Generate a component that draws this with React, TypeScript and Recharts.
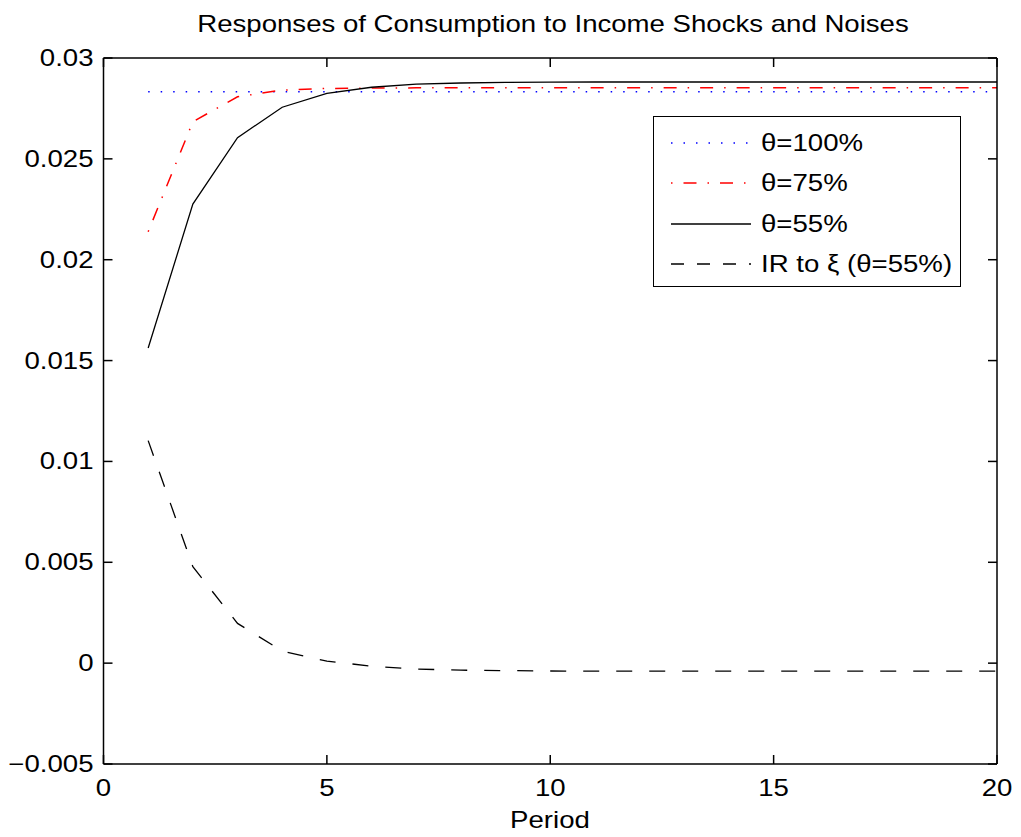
import { Legend, Line, LineChart, XAxis, YAxis } from "recharts";

// impulse responses, periods 1..20
const periods = [1, 2, 3, 4, 5, 6, 7, 8, 9, 10, 11, 12, 13, 14, 15, 16, 17, 18, 19, 20];
const theta100 = [
  0.02833, 0.02833, 0.02833, 0.02833, 0.02833, 0.02833, 0.02833, 0.02833, 0.02833, 0.02833,
  0.02833, 0.02833, 0.02833, 0.02833, 0.02833, 0.02833, 0.02833, 0.02833, 0.02833, 0.02833,
];
const theta75 = [
  0.02139, 0.02684, 0.02808, 0.02841, 0.02849, 0.02851, 0.02852, 0.02852, 0.02852, 0.02852,
  0.02852, 0.02852, 0.02852, 0.02852, 0.02852, 0.02852, 0.02852, 0.02852, 0.02852, 0.02852,
];
const theta55 = [
  0.01562, 0.02276, 0.02605, 0.02756, 0.02825, 0.02855, 0.0287, 0.02876, 0.02879, 0.0288,
  0.02881, 0.02881, 0.02881, 0.02881, 0.02881, 0.02881, 0.02881, 0.02881, 0.02881, 0.02881,
];
const irXi = [
  0.01103, 0.00478, 0.00197, 0.0006, 0.0001, -0.00015, -0.00029, -0.00035, -0.00037, -0.00039,
  -0.0004, -0.0004, -0.0004, -0.0004, -0.0004, -0.0004, -0.0004, -0.0004, -0.0004, -0.0004,
];

const xTicks = [0, 5, 10, 15, 20];
const yTicks = [-0.005, 0, 0.005, 0.01, 0.015, 0.02, 0.025, 0.03];
const legendNames = ["θ=100%", "θ=75%", "θ=55%", "IR to ξ (θ=55%)"];
const title = "Responses of Consumption to Income Shocks and Noises";

const data = periods.map((p, i) => ({
  period: p,
  t100: theta100[i],
  t75: theta75[i],
  t55: theta55[i],
  ir: irXi[i],
}));

const FONT = '"Liberation Sans", Arial, Helvetica, sans-serif';
const FS = 23;
const SX = 1.2; // the source figure is stretched sideways
const TICK = 9;
const TW = 1.5;

const fmtY = (v: number) => (v < 0 ? "\u2212" + String(-v) : String(v));

// matlab style ticks point into the plot box
function LeftTick(props: any) {
  const { x, y, payload } = props;
  return (
    <g>
      <path d={`M${x},${y}h${TICK}`} stroke="#000" strokeWidth={TW} fill="none" />
      <g transform={`translate(${x - 10},${y}) scale(${SX},1)`}>
        <text x={0} y={0} dy={8} textAnchor="end" fontSize={FS} fontFamily={FONT} fill="#000">
          {fmtY(payload.value)}
        </text>
      </g>
    </g>
  );
}

function RightTick(props: any) {
  const { x, y } = props;
  return (
    <g>
      <path d={`M${x},${y}h${-TICK}`} stroke="#000" strokeWidth={TW} fill="none" />
    </g>
  );
}

function BottomTick(props: any) {
  const { x, y, payload } = props;
  return (
    <g>
      <path d={`M${x},${y}v${-TICK}`} stroke="#000" strokeWidth={TW} fill="none" />
      <g transform={`translate(${x},${y + 32}) scale(${SX},1)`}>
        <text x={0} y={0} textAnchor="middle" fontSize={FS} fontFamily={FONT} fill="#000">
          {payload.value}
        </text>
      </g>
    </g>
  );
}

function TopTick(props: any) {
  const { x, y } = props;
  return (
    <g>
      <path d={`M${x},${y}v${TICK}`} stroke="#000" strokeWidth={TW} fill="none" />
    </g>
  );
}

function ScaledText({ x, y, text }: { x: number; y: number; text: string }) {
  return (
    <g transform={`translate(${x},${y}) scale(${SX},1)`}>
      <text x={0} y={0} textAnchor="middle" fontSize={FS} fontFamily={FONT} fill="#000">
        {text}
      </text>
    </g>
  );
}

const samples = [
  { stroke: "#0000ff", dash: "1.5 11" },
  { stroke: "#ff0000", dash: "1.5 11 13 11" },
  { stroke: "#000000", dash: undefined },
  { stroke: "#000000", dash: "13 13" },
];

function LegendBox() {
  return (
    <div
      style={{
        width: 308,
        height: 171,
        boxSizing: "border-box",
        border: "1.5px solid #000",
        background: "#fff",
        position: "relative",
      }}
    >
      {legendNames.map((name, i) => {
        const cy = 25.5 + i * 40.5;
        return (
          <div key={name}>
            <svg width={82} height={6} style={{ position: "absolute", left: 16, top: cy - 3 }}>
              <line
                x1={1}
                y1={3}
                x2={81}
                y2={3}
                stroke={samples[i].stroke}
                strokeWidth={1.5}
                strokeDasharray={samples[i].dash}
              />
            </svg>
            <div
              style={{
                position: "absolute",
                left: 107,
                top: cy - 13,
                height: 26,
                lineHeight: "26px",
                fontSize: FS,
                fontFamily: FONT,
                whiteSpace: "nowrap",
                transform: `scaleX(${SX})`,
                transformOrigin: "left center",
                color: "#000",
              }}
            >
              {name}
            </div>
          </div>
        );
      })}
    </div>
  );
}

export default function App() {
  return (
    <div style={{ position: "absolute", left: 0, top: 0, width: 1021, height: 837, background: "#fff" }}>
      <LineChart width={1021} height={837} data={data} margin={{ top: 57, right: 23, bottom: 0, left: 0 }}>
        <XAxis
          dataKey="period"
          type="number"
          domain={[0, 20]}
          ticks={xTicks}
          interval={0}
          height={73}
          tickSize={0}
          tickMargin={0}
          tickLine={false}
          tick={<BottomTick />}
          stroke="#000"
          strokeWidth={1.5}
          label={{
            content: () => (
              <g>
                <ScaledText x={550} y={828} text="Period" />
                <ScaledText x={553} y={32} text={title} />
              </g>
            ),
          }}
        />
        <XAxis
          xAxisId="top"
          orientation="top"
          dataKey="period"
          type="number"
          domain={[0, 20]}
          ticks={xTicks}
          interval={0}
          height={1}
          tickSize={0}
          tickMargin={0}
          tickLine={false}
          tick={<TopTick />}
          stroke="#000"
          strokeWidth={1.5}
        />
        <YAxis
          type="number"
          domain={[-0.005, 0.03]}
          ticks={yTicks}
          interval={0}
          width={103.5}
          tickSize={0}
          tickMargin={0}
          tickLine={false}
          tick={<LeftTick />}
          stroke="#000"
          strokeWidth={1.5}
        />
        <YAxis
          yAxisId="right"
          orientation="right"
          type="number"
          domain={[-0.005, 0.03]}
          ticks={yTicks}
          interval={0}
          width={1}
          tickSize={0}
          tickMargin={0}
          tickLine={false}
          tick={<RightTick />}
          stroke="#000"
          strokeWidth={1.5}
        />
        <Legend
          layout="horizontal"
          verticalAlign="middle"
          align="center"
          wrapperStyle={{ position: "absolute", left: 653, top: 116, width: 308, height: 171 }}
          content={() => <LegendBox />}
        />
        {/* the two flat-ish curves sit on the mirrored axes so those get drawn too */}
        <Line
          dataKey="t100"
          name={legendNames[0]}
          xAxisId="top"
          yAxisId="right"
          stroke="#0000ff"
          strokeWidth={1.5}
          strokeDasharray="1.5 11"
          dot={false}
          activeDot={false}
          isAnimationActive={false}
        />
        <Line
          dataKey="t75"
          name={legendNames[1]}
          xAxisId="top"
          yAxisId="right"
          stroke="#ff0000"
          strokeWidth={1.5}
          strokeDasharray="1.5 11 13 11"
          dot={false}
          activeDot={false}
          isAnimationActive={false}
        />
        <Line
          dataKey="t55"
          name={legendNames[2]}
          stroke="#000000"
          strokeWidth={1.3}
          dot={false}
          activeDot={false}
          isAnimationActive={false}
        />
        <Line
          dataKey="ir"
          name={legendNames[3]}
          stroke="#000000"
          strokeWidth={1.3}
          strokeDasharray="16 17"
          dot={false}
          activeDot={false}
          isAnimationActive={false}
        />
      </LineChart>
    </div>
  );
}
